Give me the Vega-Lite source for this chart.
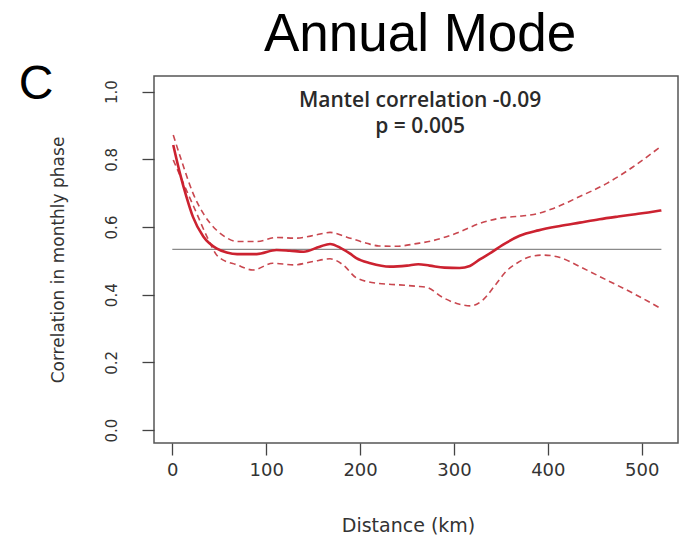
{
  "$schema": "https://vega.github.io/schema/vega-lite/v6.json",
  "width": 524,
  "height": 367,
  "autosize": {"type": "none"},
  "padding": {"left": 154, "top": 76, "right": 2, "bottom": 98},
  "background": "white",
  "config": {
    "view": {"stroke": "#555555", "strokeWidth": 1.5},
    "axis": {
      "grid": false,
      "domain": false,
      "tickColor": "#444444",
      "tickWidth": 1.3,
      "tickSize": 12,
      "labelFont": "DejaVu Sans",
      "labelColor": "#333333",
      "titleFont": "DejaVu Sans",
      "titleColor": "#333333",
      "titleFontWeight": "normal"
    }
  },
  "datasets": {
    "curves": [
      {"d": 1, "r": 0.842, "s": "fit"},
      {"d": 8, "r": 0.76, "s": "fit"},
      {"d": 15, "r": 0.69, "s": "fit"},
      {"d": 22, "r": 0.63, "s": "fit"},
      {"d": 33, "r": 0.572, "s": "fit"},
      {"d": 47, "r": 0.537, "s": "fit"},
      {"d": 58, "r": 0.525, "s": "fit"},
      {"d": 69, "r": 0.52, "s": "fit"},
      {"d": 90, "r": 0.52, "s": "fit"},
      {"d": 111, "r": 0.532, "s": "fit"},
      {"d": 125, "r": 0.53, "s": "fit"},
      {"d": 140, "r": 0.527, "s": "fit"},
      {"d": 157, "r": 0.542, "s": "fit"},
      {"d": 168, "r": 0.55, "s": "fit"},
      {"d": 180, "r": 0.537, "s": "fit"},
      {"d": 189, "r": 0.522, "s": "fit"},
      {"d": 196, "r": 0.508, "s": "fit"},
      {"d": 211, "r": 0.493, "s": "fit"},
      {"d": 232, "r": 0.483, "s": "fit"},
      {"d": 250, "r": 0.486, "s": "fit"},
      {"d": 262, "r": 0.49, "s": "fit"},
      {"d": 274, "r": 0.486, "s": "fit"},
      {"d": 290, "r": 0.48, "s": "fit"},
      {"d": 306, "r": 0.479, "s": "fit"},
      {"d": 317, "r": 0.485, "s": "fit"},
      {"d": 328, "r": 0.505, "s": "fit"},
      {"d": 340, "r": 0.525, "s": "fit"},
      {"d": 352, "r": 0.547, "s": "fit"},
      {"d": 370, "r": 0.574, "s": "fit"},
      {"d": 390, "r": 0.59, "s": "fit"},
      {"d": 413, "r": 0.603, "s": "fit"},
      {"d": 434, "r": 0.613, "s": "fit"},
      {"d": 455, "r": 0.623, "s": "fit"},
      {"d": 475, "r": 0.631, "s": "fit"},
      {"d": 491, "r": 0.637, "s": "fit"},
      {"d": 507, "r": 0.643, "s": "fit"},
      {"d": 521, "r": 0.649, "s": "fit"},
      {"d": 1, "r": 0.872, "s": "upper"},
      {"d": 12, "r": 0.778, "s": "upper"},
      {"d": 22, "r": 0.7, "s": "upper"},
      {"d": 33, "r": 0.64, "s": "upper"},
      {"d": 47, "r": 0.591, "s": "upper"},
      {"d": 58, "r": 0.568, "s": "upper"},
      {"d": 69, "r": 0.557, "s": "upper"},
      {"d": 90, "r": 0.557, "s": "upper"},
      {"d": 111, "r": 0.569, "s": "upper"},
      {"d": 132, "r": 0.567, "s": "upper"},
      {"d": 154, "r": 0.577, "s": "upper"},
      {"d": 168, "r": 0.584, "s": "upper"},
      {"d": 186, "r": 0.57, "s": "upper"},
      {"d": 207, "r": 0.552, "s": "upper"},
      {"d": 220, "r": 0.544, "s": "upper"},
      {"d": 239, "r": 0.543, "s": "upper"},
      {"d": 260, "r": 0.551, "s": "upper"},
      {"d": 275, "r": 0.558, "s": "upper"},
      {"d": 303, "r": 0.582, "s": "upper"},
      {"d": 328, "r": 0.611, "s": "upper"},
      {"d": 349, "r": 0.626, "s": "upper"},
      {"d": 370, "r": 0.632, "s": "upper"},
      {"d": 385, "r": 0.637, "s": "upper"},
      {"d": 406, "r": 0.655, "s": "upper"},
      {"d": 434, "r": 0.69, "s": "upper"},
      {"d": 463, "r": 0.729, "s": "upper"},
      {"d": 491, "r": 0.778, "s": "upper"},
      {"d": 519, "r": 0.835, "s": "upper"},
      {"d": 1, "r": 0.798, "s": "lower"},
      {"d": 15, "r": 0.709, "s": "lower"},
      {"d": 26, "r": 0.64, "s": "lower"},
      {"d": 37, "r": 0.571, "s": "lower"},
      {"d": 49, "r": 0.512, "s": "lower"},
      {"d": 69, "r": 0.488, "s": "lower"},
      {"d": 86, "r": 0.473, "s": "lower"},
      {"d": 107, "r": 0.493, "s": "lower"},
      {"d": 129, "r": 0.488, "s": "lower"},
      {"d": 150, "r": 0.498, "s": "lower"},
      {"d": 168, "r": 0.506, "s": "lower"},
      {"d": 182, "r": 0.488, "s": "lower"},
      {"d": 196, "r": 0.45, "s": "lower"},
      {"d": 218, "r": 0.434, "s": "lower"},
      {"d": 242, "r": 0.429, "s": "lower"},
      {"d": 260, "r": 0.425, "s": "lower"},
      {"d": 271, "r": 0.422, "s": "lower"},
      {"d": 288, "r": 0.392, "s": "lower"},
      {"d": 303, "r": 0.374, "s": "lower"},
      {"d": 318, "r": 0.367, "s": "lower"},
      {"d": 331, "r": 0.385, "s": "lower"},
      {"d": 345, "r": 0.432, "s": "lower"},
      {"d": 356, "r": 0.47, "s": "lower"},
      {"d": 367, "r": 0.493, "s": "lower"},
      {"d": 381, "r": 0.512, "s": "lower"},
      {"d": 395, "r": 0.517, "s": "lower"},
      {"d": 413, "r": 0.51, "s": "lower"},
      {"d": 434, "r": 0.483, "s": "lower"},
      {"d": 463, "r": 0.443, "s": "lower"},
      {"d": 491, "r": 0.404, "s": "lower"},
      {"d": 520, "r": 0.36, "s": "lower"}
    ],
    "ref": [{"d": 0, "d2": 521, "r": 0.534}],
    "notes": [
      {"t": "Mantel correlation -0.09", "d": 264, "r": 0.955},
      {"t": "p = 0.005", "d": 264, "r": 0.878}
    ],
    "heads": [
      {"t": "C", "d": -145, "r": 0.978, "k": "panel"},
      {"t": "Annual Mode", "d": 264, "r": 1.12, "k": "title"}
    ]
  },
  "layer": [
    {
      "data": {"name": "ref"},
      "mark": {"type": "rule", "color": "#8a8a8a", "strokeWidth": 1.3},
      "encoding": {
        "x": {
          "field": "d",
          "type": "quantitative",
          "scale": {"domain": [-19.5, 538.7], "nice": false, "zero": false},
          "axis": {
            "values": [0, 100, 200, 300, 400, 500],
            "labelFontSize": 18,
            "labelPadding": 6,
            "labelFlush": false,
            "title": "Distance (km)",
            "titleFontSize": 19,
            "titlePadding": 37,
            "titleX": 254
          }
        },
        "x2": {"field": "d2"},
        "y": {
          "field": "r",
          "type": "quantitative",
          "scale": {"domain": [-0.038, 1.046], "nice": false, "zero": false},
          "axis": {
            "values": [0, 0.2, 0.4, 0.6, 0.8, 1.0],
            "format": ".1f",
            "labelFontSize": 15,
            "labelAngle": 270,
            "labelAlign": "center",
            "labelBaseline": "alphabetic",
            "labelPadding": 26,
            "labelFlush": false,
            "title": "Correlation in monthly phase",
            "titleFontSize": 17,
            "titlePadding": 37
          }
        }
      }
    },
    {
      "data": {"name": "curves"},
      "transform": [{"filter": "datum.s !== 'fit'"}],
      "mark": {"type": "line", "interpolate": "monotone", "color": "#c9474f", "strokeWidth": 1.6, "strokeDash": [6, 4]},
      "encoding": {
        "x": {"field": "d", "type": "quantitative"},
        "y": {"field": "r", "type": "quantitative"},
        "detail": {"field": "s"}
      }
    },
    {
      "data": {"name": "curves"},
      "transform": [{"filter": "datum.s === 'fit'"}],
      "mark": {"type": "line", "interpolate": "monotone", "color": "#cc2230", "strokeWidth": 2.6},
      "encoding": {
        "x": {"field": "d", "type": "quantitative"},
        "y": {"field": "r", "type": "quantitative"}
      }
    },
    {
      "data": {"name": "notes"},
      "mark": {"type": "text", "font": "Open Sans", "fontSize": 21, "fontWeight": 600, "color": "#2a2a2a", "align": "center", "baseline": "alphabetic"},
      "encoding": {
        "x": {"field": "d", "type": "quantitative"},
        "y": {"field": "r", "type": "quantitative"},
        "text": {"field": "t"}
      }
    },
    {
      "data": {"name": "heads"},
      "transform": [{"filter": "datum.k === 'panel'"}],
      "mark": {"type": "text", "font": "Liberation Sans", "fontSize": 48, "color": "#000000", "align": "center", "baseline": "alphabetic"},
      "encoding": {
        "x": {"field": "d", "type": "quantitative"},
        "y": {"field": "r", "type": "quantitative"},
        "text": {"field": "t"}
      }
    },
    {
      "data": {"name": "heads"},
      "transform": [{"filter": "datum.k === 'title'"}],
      "mark": {"type": "text", "font": "Liberation Sans", "fontSize": 53, "color": "#000000", "align": "center", "baseline": "alphabetic"},
      "encoding": {
        "x": {"field": "d", "type": "quantitative"},
        "y": {"field": "r", "type": "quantitative"},
        "text": {"field": "t"}
      }
    }
  ]
}
